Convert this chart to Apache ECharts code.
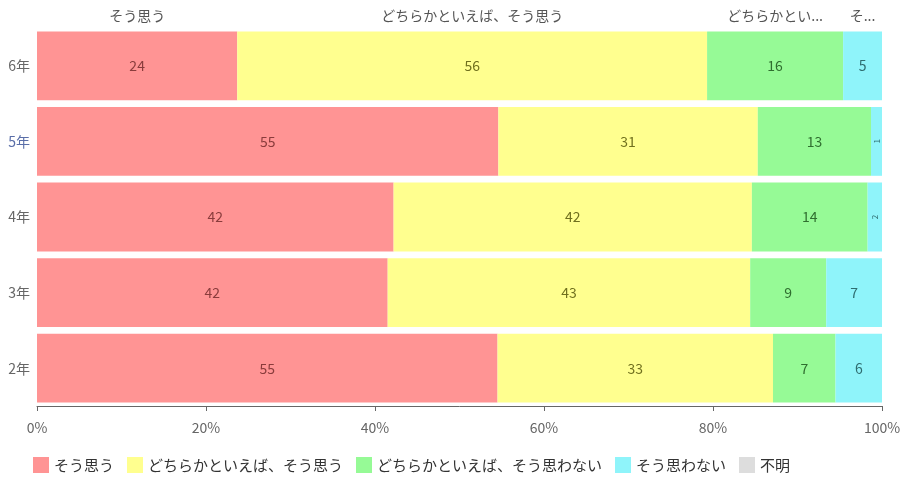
<!DOCTYPE html>
<html><head><meta charset="utf-8">
<script src="https://cdn.jsdelivr.net/npm/echarts@6/dist/echarts.min.js"></script>
<style>html,body{margin:0;padding:0;background:#fff}#c{width:905px;height:479px}</style>
</head><body><div id="c"></div>
<script>
const categories = ['6年','5年','4年','3年','2年'];
const seriesNames = ['そう思う','どちらかといえば、そう思う','どちらかといえば、そう思わない','そう思わない','不明'];
const agree        = [23.7, 54.6, 42.2, 41.5, 54.5];
const ratherAgree  = [55.6, 30.7, 42.4, 42.9, 32.6];
const ratherNot    = [16.1, 13.4, 13.7,  9.0,  7.4];
const disagree     = [ 4.6,  1.3,  1.7,  6.6,  5.5];
const unknown      = [ 0,    0,    0,    0,    0  ];
const xTicks = [0, 20, 40, 60, 80, 100];

const values = [agree, ratherAgree, ratherNot, disagree, unknown];
const colors = ['#ff9494','#ffff8f','#96fa96','#8ff4fa','#dddddd'];
const labelColors = ['#8a3c3c','#70701e','#2f6e2f','#2f6d70','#555555'];

const chart = echarts.init(document.getElementById('c'));
const gridLeft = 37, gridRight = 23;
const gridW = 905 - gridLeft - gridRight;
const font = '"Noto Sans CJK JP", "Noto Sans", sans-serif';

const series = [];
values.forEach((arr, si) => {
  series.push({
    name: seriesNames[si], type: 'bar', stack: 'main',
    barCategoryGap: '9%', barGap: '-100%',
    itemStyle: { color: colors[si] },
    label: {
      show: true, position: 'inside', color: labelColors[si], fontSize: 14, fontFamily: font,
      formatter: p => p.value > 0 ? String(Math.round(p.value)) : ''
    },
    data: arr.map(v => v < 3 ? { value: v, label: { fontSize: 8, rotate: 90 } } : v)
  });
});
// overlay transparent series for the series-name labels above the top bar
values.forEach((arr, si) => {
  series.push({
    name: seriesNames[si] + '#top', type: 'bar', stack: 'top',
    barCategoryGap: '9%', barGap: '-100%', silent: true,
    itemStyle: { color: 'rgba(0,0,0,0)' },
    label: {
      show: true, position: 'top', distance: 9, color: '#555', fontSize: 14, fontFamily: font,
      overflow: 'truncate', ellipsis: '...',
      formatter: p => p.value > 0 ? seriesNames[si] : ''
    },
    data: arr.map((v, i) => i === 0 ? { value: v, label: { width: Math.max(v / 100 * gridW * 0.72, 10) } } : '-')
  });
});

chart.setOption({
  animation: false,
  textStyle: { fontFamily: font },
  grid: { left: gridLeft, right: gridRight, top: 28, bottom: 73 },
  legend: {
    data: seriesNames, bottom: 1, left: 28, itemWidth: 16, itemHeight: 16, itemGap: 13,
    icon: 'rect', textStyle: { color: '#333', fontSize: 15, fontFamily: font }
  },
  xAxis: {
    type: 'value', min: 0, max: 100, interval: 20,
    splitLine: { show: false },
    axisLine: { show: true, lineStyle: { color: '#666' } },
    axisTick: { show: true, length: 5, lineStyle: { color: '#666' } },
    axisLabel: { color: '#666', fontSize: 14, margin: 15, formatter: v => xTicks.includes(v) ? v + '%' : '' }
  },
  yAxis: {
    type: 'category', data: categories, inverse: true,
    axisLine: { show: false }, axisTick: { show: false },
    axisLabel: { fontSize: 14, margin: 7, color: (v, i) => v === '5年' ? '#5a6ea8' : '#666' }
  },
  series: series
});
</script></body></html>
